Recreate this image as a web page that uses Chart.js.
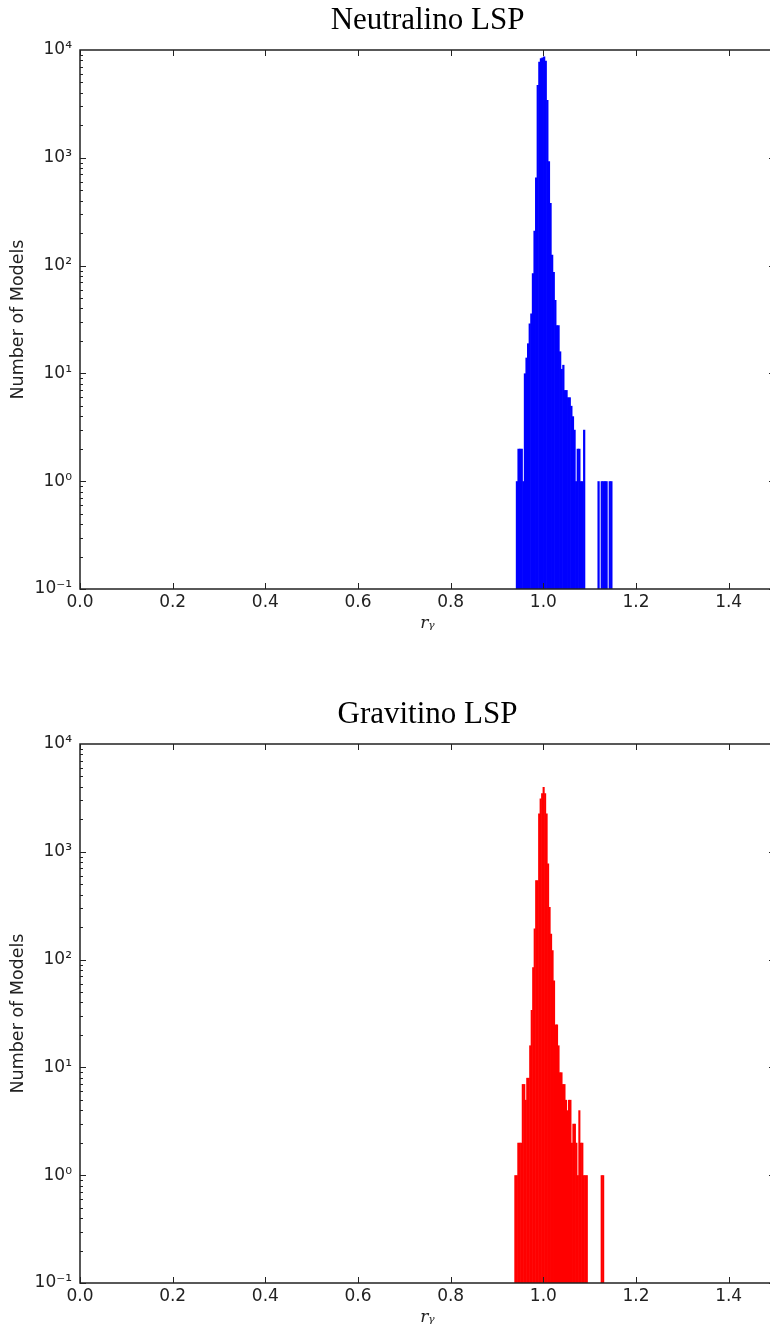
<!DOCTYPE html>
<html>
<head>
<meta charset="utf-8">
<title>r_gamma histograms</title>
<script src="https://cdn.jsdelivr.net/npm/chart.js@4/dist/chart.umd.min.js"></script>
<style>
    html, body { margin: 0; padding: 0; background: #fff; overflow: hidden; }
    .painel { position: absolute; left: 0; width: 780px; height: 638px; }
    #painel-1 { top: 0; }
    #painel-2 { top: 694px; }
</style>
</head>
<body>
<div class="painel" id="painel-1"><canvas id="grafico-neutralino"></canvas></div>
<div class="painel" id="painel-2"><canvas id="grafico-gravitino"></canvas></div>

<script>
// histogram bins (r_gamma), 60 bins each
const neutralinoBinStart = 0.9413;
const neutralinoBinWidth = 0.003455;
const neutralinoCounts = [
    1, 2, 2, 2, 1, 10, 14, 19, 29, 36,
    85, 210, 655, 4740, 7800, 8380, 8500, 8700, 7950, 3430,
    930, 380, 126, 87, 48, 28, 28, 16, 11, 12,
    7, 7, 6, 6, 5, 4, 3, 1, 2, 2,
    1, 1, 3, 0, 0, 0, 0, 0, 0, 0,
    0, 1, 0, 1, 1, 1, 1, 0, 1, 1
];

const gravitinoBinStart = 0.9380;
const gravitinoBinWidth = 0.003213;
const gravitinoCounts = [
    1, 1, 2, 2, 2, 7, 7, 5, 8, 8,
    16, 34, 85, 194, 545, 545, 2270, 3130, 3500, 4000,
    3500, 2270, 778, 308, 174, 122, 64, 25, 25, 16,
    9, 9, 7, 7, 5, 4, 5, 5, 2, 3,
    3, 2, 1, 4, 2, 2, 1, 1, 1, 0,
    0, 0, 0, 0, 0, 0, 0, 0, 1, 1
];

const xTickValues = [0, 0.2, 0.4, 0.6, 0.8, 1.0, 1.2, 1.4];
const yTickValues = [0.1, 1, 10, 100, 1000, 10000];
const yTickLabels = ["10⁻¹", "10⁰", "10¹", "10²", "10³", "10⁴"];

Chart.defaults.font.family = "'DejaVu Sans', sans-serif";
Chart.defaults.color = "#222";

// matplotlib-like frame with inward ticks on all four sides
const moldura = {
    id: "moldura",
    afterDatasetsDraw(chart) {
        const { ctx, chartArea: a, scales: { x, y } } = chart;
        ctx.save();
        ctx.strokeStyle = "#222";
        ctx.lineWidth = 1;
        ctx.beginPath();
        xTickValues.forEach(v => {
            const px = Math.round(x.getPixelForValue(v)) + 0.5;
            ctx.moveTo(px, a.bottom); ctx.lineTo(px, a.bottom - 6);
            ctx.moveTo(px, a.top); ctx.lineTo(px, a.top + 6);
        });
        for (let e = -1; e < 4; e++) {
            for (let m = 1; m <= 9; m++) {
                const py = Math.round(y.getPixelForValue(m * Math.pow(10, e))) + 0.5;
                const len = m === 1 ? 6 : 3;
                ctx.moveTo(a.left, py); ctx.lineTo(a.left + len, py);
                ctx.moveTo(a.right, py); ctx.lineTo(a.right - len, py);
            }
        }
        ctx.stroke();
        ctx.lineWidth = 1.5;
        ctx.strokeRect(a.left, a.top, a.right - a.left, a.bottom - a.top);
        ctx.restore();
    }
};

function criarHistograma(id, titulo, binStart, binWidth, counts, cor) {
    const pontos = counts.map((c, i) => ({
        x: binStart + (i + 0.5) * binWidth,
        y: c > 0 ? c : null
    }));

    return new Chart(document.getElementById(id), {
        type: "bar",
        data: {
            datasets: [{
                data: pontos,
                backgroundColor: cor,
                borderWidth: 0,
                // a bit wider than the bin, like matplotlib's bar edge line
                barPercentage: 1.4,
                categoryPercentage: 1
            }]
        },
        options: {
            responsive: true,
            maintainAspectRatio: false,
            animation: false,
            layout: { padding: { left: 0, right: 5, top: 0, bottom: 0 } },
            plugins: {
                legend: { display: false },
                tooltip: { enabled: false },
                title: {
                    display: true,
                    fullSize: false,
                    text: titulo,
                    color: "#000",
                    font: { family: "'Liberation Serif', serif", size: 31, weight: "normal" },
                    padding: { top: 2, bottom: 10.8 }
                }
            },
            scales: {
                x: {
                    type: "linear",
                    min: 0,
                    max: 1.5,
                    offset: false,
                    grid: { display: false, drawTicks: false },
                    border: { display: false },
                    afterBuildTicks: s => { s.ticks = xTickValues.map(v => ({ value: v })); },
                    afterFit: s => { s.height = 49; },
                    ticks: {
                        padding: 3,
                        maxRotation: 0,
                        font: { size: 17 },
                        callback: v => v.toFixed(1)
                    },
                    title: {
                        display: true,
                        text: "rᵧ",
                        color: "#222",
                        font: { family: "'DejaVu Serif', serif", style: "italic", size: 17 },
                        padding: { top: 0, bottom: 4 }
                    }
                },
                y: {
                    type: "logarithmic",
                    min: 0.1,
                    max: 10000,
                    grid: { display: false, drawTicks: false },
                    border: { display: false },
                    afterBuildTicks: s => { s.ticks = yTickValues.map(v => ({ value: v })); },
                    afterFit: s => { s.width = 80; },
                    ticks: {
                        padding: 8,
                        font: { size: 17 },
                        callback: (v, i) => yTickLabels[i]
                    },
                    title: {
                        display: true,
                        text: "Number of Models",
                        color: "#222",
                        font: { size: 17.5 },
                        padding: { top: 8, bottom: 0 }
                    }
                }
            }
        },
        plugins: [moldura]
    });
}

criarHistograma("grafico-neutralino", "Neutralino LSP", neutralinoBinStart, neutralinoBinWidth, neutralinoCounts, "#0000ff");
criarHistograma("grafico-gravitino", "Gravitino LSP", gravitinoBinStart, gravitinoBinWidth, gravitinoCounts, "#ff0000");
</script>
</body>
</html>
